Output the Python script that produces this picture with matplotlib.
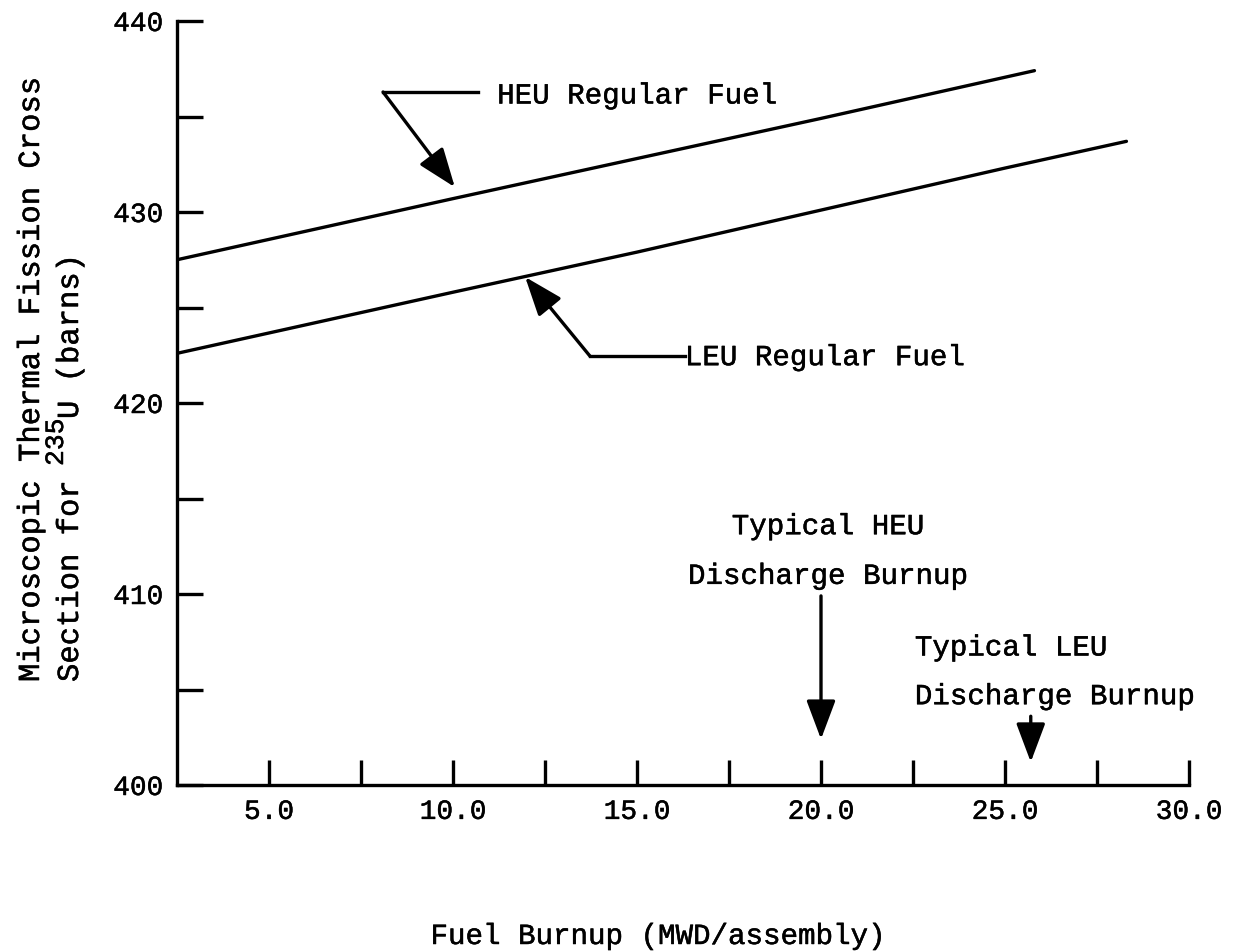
import matplotlib.pyplot as plt
import matplotlib.patheffects as pe
from matplotlib.ticker import FixedLocator

plt.rcParams['font.family'] = ['Liberation Mono', 'DejaVu Sans Mono']

# cross section (barns) vs burnup (MWD/assembly)
heu_burnup = [2.5, 10.0, 15.0, 20.0, 25.8]
heu_sigma = [427.5, 430.7, 432.8, 434.9, 437.4]
leu_burnup = [2.5, 10.0, 15.0, 20.0, 25.0, 28.3]
leu_sigma = [422.6, 425.8, 427.9, 430.1, 432.3, 433.7]

heu_discharge = 20.0
leu_discharge = 25.7

x_major = [5.0, 10.0, 15.0, 20.0, 25.0, 30.0]
x_minor = [7.5, 12.5, 17.5, 22.5, 27.5]
y_major = [400, 410, 420, 430, 440]
y_minor = [405, 415, 425, 435]

fs = 21
lw = 2.4
bold = [pe.withStroke(linewidth=0.35, foreground='k')]
arrow = dict(arrowstyle='-|>,head_length=1.2,head_width=0.45',
             mutation_scale=20, color='k', lw=lw, shrinkA=0, shrinkB=0)

fig = plt.figure(figsize=(12.55, 9.53), dpi=100)
ax = fig.add_axes([177/1255, 1 - 786/953, (1189 - 177)/1255, (786 - 22)/953])

ax.plot(heu_burnup, heu_sigma, color='k', lw=lw, solid_capstyle='round')
ax.plot(leu_burnup, leu_sigma, color='k', lw=lw, solid_capstyle='round')

ax.set_xlim(2.5, 30.0)
ax.set_ylim(400, 440)
for s in ['top', 'right']:
    ax.spines[s].set_visible(False)
for s in ['left', 'bottom']:
    ax.spines[s].set_linewidth(lw)

ax.xaxis.set_major_locator(FixedLocator(x_major))
ax.xaxis.set_minor_locator(FixedLocator(x_minor))
ax.yaxis.set_major_locator(FixedLocator(y_major))
ax.yaxis.set_minor_locator(FixedLocator(y_minor))
ax.set_xticklabels(['%.1f' % v for v in x_major])
ax.set_yticklabels(['%d' % v for v in y_major])
ax.tick_params(axis='x', which='both', direction='in', length=18, width=lw,
               labelsize=20, pad=10)
ax.tick_params(axis='y', which='both', direction='in', length=19, width=lw,
               labelsize=20, pad=10)
for lab in ax.get_xticklabels() + ax.get_yticklabels():
    lab.set_path_effects(bold)

# HEU label and arrow
ax.plot([10.68, 8.10], [436.28, 436.28], color='k', lw=lw)
ax.annotate('', xy=(10.05, 431.3), xytext=(8.10, 436.28), arrowprops=arrow)
ax.text(11.2, 436.1, 'HEU Regular Fuel', fontsize=fs, ha='left', va='center',
        path_effects=bold)

# LEU label and arrow
ax.plot([16.3, 13.72], [422.46, 422.46], color='k', lw=lw)
ax.annotate('', xy=(11.96, 426.6), xytext=(13.72, 422.46), arrowprops=arrow)
ax.text(16.3, 422.4, 'LEU Regular Fuel', fontsize=fs, ha='left', va='center',
        path_effects=bold)

# discharge burnup markers
ax.text(20.19, 413.55, 'Typical HEU', fontsize=fs, ha='center', va='center',
        path_effects=bold)
ax.text(20.19, 410.95, 'Discharge Burnup', fontsize=fs, ha='center',
        va='center', path_effects=bold)
ax.annotate('', xy=(heu_discharge, 402.4), xytext=(heu_discharge, 409.9),
            arrowprops=arrow)

ax.text(22.55, 407.2, 'Typical LEU', fontsize=fs, ha='left', va='center',
        path_effects=bold)
ax.text(22.55, 404.65, 'Discharge Burnup', fontsize=fs, ha='left',
        va='center', path_effects=bold)
ax.annotate('', xy=(leu_discharge, 401.2), xytext=(leu_discharge, 403.6),
            arrowprops=arrow)

fig.text(658/1255, 1 - 937/953, 'Fuel Burnup (MWD/assembly)', fontsize=fs,
         ha='center', va='center', path_effects=bold)

# y label, two lines, with the raised 235
ylab = dict(rotation=90, rotation_mode='anchor', ha='left', va='baseline',
            path_effects=bold)
fig.text(39/1255, 1 - 683/953, 'Microscopic Thermal Fission Cross',
         fontsize=22, **ylab)
fig.text(78/1255, 1 - 683/953, 'Section for', fontsize=22, **ylab)
fig.text(63/1255, 1 - 467/953, '235', fontsize=19, **ylab)
fig.text(78/1255, 1 - 420/953, 'U (barns)', fontsize=22, **ylab)

fig.savefig('out.png', dpi=100)
